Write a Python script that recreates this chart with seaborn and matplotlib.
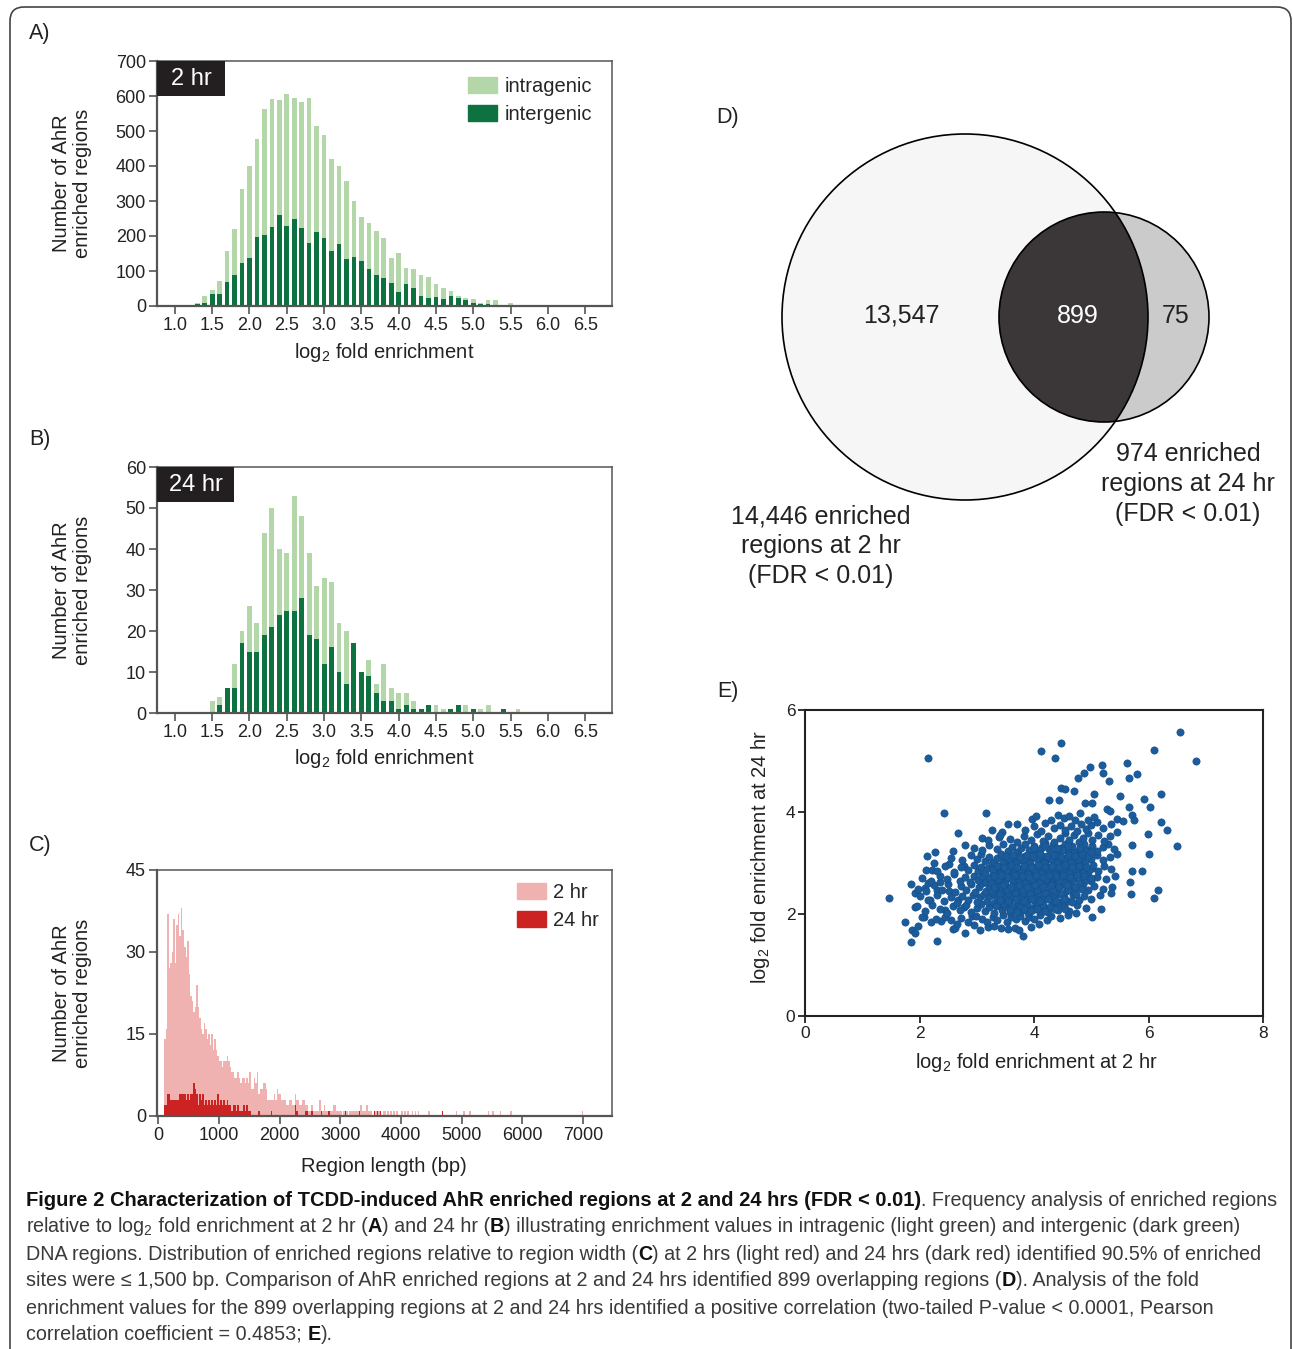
import numpy as np
import pandas as pd
import matplotlib
matplotlib.use('Agg')
import matplotlib.pyplot as plt
import seaborn as sns
from matplotlib.patches import Circle, FancyBboxPatch, Patch, Rectangle

# ---------------- data ----------------
# A) 2 hr, bins of 0.1 log2 fold enrichment
a_fold = [1.1, 1.2, 1.3, 1.4, 1.5, 1.6, 1.7, 1.8, 1.9, 2.0,
          2.1, 2.2, 2.3, 2.4, 2.5, 2.6, 2.7, 2.8, 2.9, 3.0,
          3.1, 3.2, 3.3, 3.4, 3.5, 3.6, 3.7, 3.8, 3.9, 4.0,
          4.1, 4.2, 4.3, 4.4, 4.5, 4.6, 4.7, 4.8, 4.9, 5.0,
          5.1, 5.2, 5.3, 5.4, 5.5, 5.6, 5.7, 5.8, 5.9, 6.0]
a_intragenic = [2, 0, 5, 20, 12, 37, 89, 133, 210, 263,
                282, 361, 364, 327, 377, 343, 358, 412, 302, 297,
                265, 222, 223, 158, 126, 131, 127, 114, 70, 112,
                46, 56, 61, 61, 38, 31, 16, 6, 8, 9,
                3, 13, 12, 2, 7, 1, 2, 1, 1, 1]
a_intergenic = [0, 0, 5, 10, 33, 34, 68, 88, 124, 136,
                196, 202, 227, 261, 230, 250, 224, 181, 211, 193,
                156, 177, 135, 141, 128, 106, 88, 81, 67, 40,
                63, 51, 29, 22, 26, 21, 28, 23, 16, 10,
                7, 5, 4, 2, 1, 0, 2, 0, 0, 0]

# B) 24 hr
b_fold = [1.5, 1.6, 1.7, 1.8, 1.9, 2.0, 2.1, 2.2, 2.3, 2.4,
          2.5, 2.6, 2.7, 2.8, 2.9, 3.0, 3.1, 3.2, 3.3, 3.4,
          3.5, 3.6, 3.7, 3.8, 3.9, 4.0, 4.1, 4.2, 4.3, 4.4,
          4.5, 4.6, 4.7, 4.8, 4.9, 5.0, 5.1, 5.2, 5.3, 5.4,
          5.5, 5.6]
b_intragenic = [3, 2, 0, 6, 3, 11, 7, 25, 29, 16,
                14, 28, 20, 20, 13, 21, 16, 12, 13, 0,
                0, 4, 2, 9, 3, 4, 3, 2, 0, 0,
                2, 1, 0, 0, 2, 0, 1, 2, 0, 0,
                0, 1]
b_intergenic = [0, 2, 6, 6, 17, 15, 15, 19, 21, 24,
                25, 25, 28, 19, 18, 12, 16, 10, 7, 17,
                10, 9, 5, 3, 3, 1, 2, 1, 1, 2,
                0, 0, 1, 2, 0, 1, 0, 0, 0, 1,
                0, 0]

# C) region length, 25 bp bins starting at 100 bp
c_bin_start = 100
c_bin_width = 25
c_2hr = [14, 16, 37, 27, 28, 30, 36, 28, 35, 37,
         33, 38, 34, 31, 29, 32, 26, 22, 21, 19,
         20, 24, 20, 18, 16, 15, 17, 16, 14, 15,
         13, 15, 12, 14, 12, 11, 10, 10, 9, 10,
         10, 11, 10, 9, 8, 8, 7, 7, 8, 7,
         6, 7, 7, 6, 7, 6, 8, 5, 5, 7,
         6, 8, 4, 5, 5, 6, 6, 5, 3, 3,
         3, 3, 4, 3, 5, 4, 4, 3, 3, 3,
         2, 2, 3, 3, 2, 2, 4, 3, 3, 2,
         2, 3, 3, 2, 2, 1, 1, 2, 1, 1,
         1, 1, 3, 1, 1, 2, 1, 1, 1, 1,
         1, 2, 2, 1, 1, 1, 1, 0, 1, 1,
         1, 0, 1, 1, 1, 1, 1, 1, 1, 2,
         1, 1, 1, 2, 1, 1]
c_2hr_tail_bp = [3500, 3550, 3575, 3625, 3650, 3700, 3725, 3775, 3825, 3875,
                 3925, 4000, 4050, 4100, 4175, 4225, 4275, 4450, 4675, 4900,
                 5025, 5125, 5425, 5500, 5625, 5800, 6975]
c_24hr = [2, 2, 4, 4, 3, 3, 3, 3, 3, 3,
          4, 4, 4, 4, 3, 4, 3, 4, 4, 6,
          5, 4, 2, 4, 3, 4, 2, 3, 2, 3,
          2, 3, 2, 3, 2, 4, 2, 3, 2, 3,
          2, 3, 2, 2, 1, 2, 2, 1, 2, 1,
          1, 1, 2, 1, 2, 1, 1]
c_24hr_tail_bp = [1650, 1850, 2250, 2275, 2425, 2450, 2525, 2675, 2800, 3075,
                  3300, 3550, 3600, 3650, 4675]
c_24hr_tail_n = [1, 1, 2, 1, 1, 1, 1, 1, 1, 1,
                 1, 1, 1, 1, 1]

# D) Venn counts
venn_only_2hr = '13,547'
venn_both = '899'
venn_only_24hr = '75'
venn_label_2hr = '14,446 enriched\nregions at 2 hr\n(FDR < 0.01)'
venn_label_24hr = '974 enriched\nregions at 24 hr\n(FDR < 0.01)'

# E) fold enrichment, (2 hr, 24 hr) pairs
e_sparse = [(1.46, 2.31), (1.75, 1.85), (1.85, 1.45), (1.86, 2.59), (1.87, 1.68),
            (1.93, 1.62), (1.93, 2.13), (1.93, 2.42), (1.97, 1.77), (2.07, 1.94),
            (2.10, 2.51), (2.13, 3.13), (2.14, 5.06), (2.12, 2.86), (2.15, 2.61),
            (2.18, 2.27), (2.21, 2.86), (2.25, 3.00), (2.27, 3.22), (2.31, 1.48),
            (2.30, 2.48), (2.36, 2.63), (2.42, 3.99), (2.37, 1.87), (2.45, 2.07),
            (2.51, 2.99), (2.52, 2.46), (2.58, 3.23), (2.59, 1.70), (2.67, 3.59),
            (2.68, 2.27), (2.77, 2.13), (2.80, 3.35), (2.80, 1.63), (2.77, 2.95),
            (2.91, 1.96), (3.09, 3.50), (3.16, 3.99), (3.20, 1.74), (3.26, 3.65),
            (3.38, 3.51), (3.44, 3.61), (3.55, 3.77), (3.71, 3.77), (3.81, 1.57),
            (3.97, 3.87), (4.03, 3.92), (4.13, 5.19), (4.27, 4.24), (4.37, 5.06),
            (4.44, 4.23), (4.47, 4.47), (4.48, 5.36), (4.54, 4.45), (4.69, 4.41),
            (4.76, 4.66), (4.73, 2.02), (4.87, 4.77), (4.89, 4.18), (4.97, 4.89),
            (5.01, 1.95), (5.01, 4.17), (5.04, 4.36), (5.18, 4.92), (5.20, 4.77),
            (5.17, 2.09), (5.31, 4.61), (5.36, 2.53), (5.50, 4.32), (5.62, 4.97),
            (5.66, 4.66), (5.66, 4.09), (5.72, 3.94), (5.74, 3.84), (5.80, 4.75),
            (5.70, 2.40), (5.68, 2.63), (5.72, 2.84), (5.71, 3.35), (5.89, 2.84),
            (5.92, 4.25), (5.99, 3.56), (6.02, 4.09), (6.01, 3.17), (6.09, 5.21),
            (6.10, 2.31), (6.17, 2.48), (6.22, 4.35), (6.22, 3.80), (6.33, 3.65),
            (6.49, 3.33), (6.55, 5.57), (6.83, 5.00)]
e_low = [(2.62, 1.72), (3.05, 1.68), (3.42, 1.72), (3.55, 1.70), (3.66, 1.72),
         (3.74, 1.68), (3.95, 1.74), (4.08, 1.80), (3.30, 1.76), (2.95, 1.78),
         (2.05, 1.95), (2.20, 1.85), (2.28, 1.90), (2.45, 1.95), (2.55, 1.88),
         (2.65, 1.80), (2.72, 1.92), (2.85, 1.85), (2.98, 1.96), (3.10, 1.90),
         (3.18, 1.84), (3.28, 1.95), (3.36, 1.88), (3.45, 1.98), (3.52, 1.85),
         (3.60, 1.94), (3.68, 1.90), (3.76, 1.97), (3.85, 1.86), (3.92, 1.95),
         (4.00, 1.90), (4.10, 1.98), (4.22, 1.88), (4.30, 1.96), (4.45, 1.92),
         (4.60, 1.98)]
e_mid = [(1.95, 2.15), (2.10, 2.05), (2.22, 2.18), (2.35, 2.10), (2.48, 2.02),
         (2.58, 2.15), (2.70, 2.08), (2.82, 2.18), (2.90, 2.04), (3.00, 2.12),
         (3.08, 2.20), (3.15, 2.05), (3.22, 2.14), (3.30, 2.02), (3.38, 2.18),
         (3.44, 2.08), (3.50, 2.16), (3.58, 2.03), (3.64, 2.12), (3.72, 2.20),
         (3.78, 2.06), (3.84, 2.15), (3.90, 2.02), (3.96, 2.12), (4.04, 2.19),
         (4.10, 2.06), (4.18, 2.14), (4.25, 2.03), (4.34, 2.17), (4.42, 2.08),
         (4.52, 2.15), (4.62, 2.05), (4.75, 2.18), (4.90, 2.12),
         (2.00, 2.35), (2.15, 2.28), (2.30, 2.38), (2.42, 2.25), (2.55, 2.33),
         (2.65, 2.22), (2.75, 2.36), (2.85, 2.27), (2.93, 2.38), (3.00, 2.24),
         (3.06, 2.33), (3.12, 2.40), (3.18, 2.26), (3.24, 2.35), (3.30, 2.22),
         (3.35, 2.31), (3.40, 2.39), (3.46, 2.27), (3.52, 2.36), (3.57, 2.23),
         (3.62, 2.32), (3.68, 2.40), (3.73, 2.28), (3.79, 2.36), (3.84, 2.24),
         (3.90, 2.33), (3.95, 2.40), (4.00, 2.27), (4.06, 2.35), (4.12, 2.22),
         (4.18, 2.31), (4.24, 2.39), (4.30, 2.27), (4.37, 2.35), (4.44, 2.24),
         (4.52, 2.33), (4.60, 2.26), (4.68, 2.37), (4.78, 2.28), (4.88, 2.35),
         (5.00, 2.30), (5.15, 2.38),
         (1.98, 2.50), (2.12, 2.45), (2.25, 2.56), (2.40, 2.48), (2.50, 2.58),
         (2.62, 2.44), (2.72, 2.55), (2.82, 2.47), (2.90, 2.58), (2.97, 2.43),
         (3.04, 2.52), (3.10, 2.60), (3.16, 2.46), (3.22, 2.55), (3.28, 2.42),
         (3.33, 2.50), (3.38, 2.58), (3.44, 2.45), (3.50, 2.54), (3.55, 2.42),
         (3.60, 2.50), (3.65, 2.59), (3.70, 2.46), (3.76, 2.54), (3.81, 2.42),
         (3.86, 2.51), (3.92, 2.58), (3.97, 2.45), (4.03, 2.53), (4.08, 2.42),
         (4.14, 2.50), (4.20, 2.59), (4.26, 2.46), (4.32, 2.54), (4.38, 2.43),
         (4.44, 2.52), (4.50, 2.59), (4.56, 2.45), (4.62, 2.54), (4.70, 2.43),
         (4.78, 2.52), (4.86, 2.58), (4.95, 2.47), (5.05, 2.55), (5.20, 2.50),
         (5.35, 2.42)]
e_upper = [(2.05, 2.70), (2.20, 2.65), (2.35, 2.75), (2.48, 2.68), (2.60, 2.78),
           (2.70, 2.64), (2.80, 2.72), (2.88, 2.62), (2.96, 2.75), (3.03, 2.66),
           (3.10, 2.74), (3.16, 2.63), (3.22, 2.71), (3.28, 2.79), (3.34, 2.66),
           (3.40, 2.74), (3.46, 2.62), (3.52, 2.70), (3.58, 2.78), (3.63, 2.65),
           (3.69, 2.73), (3.75, 2.61), (3.80, 2.70), (3.86, 2.78), (3.92, 2.66),
           (3.98, 2.74), (4.04, 2.62), (4.10, 2.71), (4.16, 2.79), (4.22, 2.66),
           (4.28, 2.74), (4.34, 2.63), (4.40, 2.71), (4.46, 2.78), (4.52, 2.65),
           (4.58, 2.73), (4.64, 2.62), (4.70, 2.70), (4.77, 2.78), (4.84, 2.66),
           (4.92, 2.74), (5.00, 2.64), (5.10, 2.72), (5.25, 2.68), (5.42, 2.75),
           (2.30, 2.85), (2.45, 2.95), (2.60, 2.82), (2.72, 2.92), (2.85, 2.86),
           (2.95, 2.97), (3.02, 2.84), (3.08, 2.93), (3.15, 2.81), (3.20, 2.90),
           (3.26, 2.98), (3.32, 2.85), (3.38, 2.94), (3.44, 2.82), (3.50, 2.90),
           (3.56, 2.98), (3.62, 2.86), (3.68, 2.94), (3.74, 2.82), (3.80, 2.90),
           (3.86, 2.98), (3.92, 2.85), (3.98, 2.93), (4.04, 2.81), (4.10, 2.90),
           (4.16, 2.97), (4.22, 2.84), (4.28, 2.92), (4.34, 2.81), (4.40, 2.89),
           (4.46, 2.97), (4.52, 2.85), (4.58, 2.93), (4.64, 2.82), (4.70, 2.90),
           (4.76, 2.98), (4.82, 2.86), (4.88, 2.94), (4.95, 2.83), (5.02, 2.91),
           (5.12, 2.85), (5.22, 2.95), (5.35, 2.88),
           (2.55, 3.10), (2.75, 3.05), (2.90, 3.15), (3.00, 3.08), (3.08, 3.18),
           (3.15, 3.04), (3.22, 3.12), (3.30, 3.02), (3.36, 3.10), (3.42, 3.18),
           (3.48, 3.05), (3.55, 3.14), (3.60, 3.02), (3.66, 3.10), (3.72, 3.18),
           (3.78, 3.06), (3.84, 3.14), (3.90, 3.03), (3.96, 3.12), (4.02, 3.19),
           (4.08, 3.06), (4.14, 3.14), (4.20, 3.02), (4.26, 3.10), (4.32, 3.18),
           (4.38, 3.05), (4.44, 3.13), (4.50, 3.02), (4.56, 3.10), (4.62, 3.18),
           (4.68, 3.06), (4.74, 3.14), (4.80, 3.03), (4.86, 3.11), (4.92, 3.19),
           (5.00, 3.07), (5.10, 3.15), (5.20, 3.05), (5.32, 3.12), (5.45, 3.18)]
e_high = [(2.95, 3.30), (3.10, 3.25), (3.22, 3.35), (3.35, 3.28), (3.45, 3.38),
          (3.55, 3.24), (3.62, 3.32), (3.70, 3.22), (3.78, 3.30), (3.85, 3.38),
          (3.92, 3.26), (4.00, 3.34), (4.07, 3.23), (4.14, 3.31), (4.20, 3.39),
          (4.27, 3.27), (4.34, 3.35), (4.40, 3.22), (4.47, 3.30), (4.54, 3.38),
          (4.60, 3.26), (4.67, 3.34), (4.74, 3.22), (4.80, 3.30), (4.87, 3.38),
          (4.94, 3.26), (5.02, 3.34), (5.10, 3.24), (5.20, 3.32), (5.30, 3.38),
          (5.40, 3.28),
          (3.20, 3.45), (3.40, 3.55), (3.58, 3.48), (3.70, 3.42), (3.82, 3.52),
          (3.95, 3.45), (4.05, 3.56), (4.15, 3.44), (4.25, 3.52), (4.35, 3.42),
          (4.45, 3.50), (4.55, 3.58), (4.62, 3.45), (4.70, 3.54), (4.78, 3.42),
          (4.86, 3.50), (4.94, 3.58), (5.02, 3.46), (5.12, 3.55), (5.22, 3.44),
          (5.32, 3.52), (5.45, 3.60),
          (3.85, 3.65), (4.00, 3.72), (4.12, 3.62), (4.20, 3.78), (4.35, 3.68),
          (4.45, 3.75), (4.55, 3.64), (4.65, 3.72), (4.75, 3.62), (4.82, 3.76),
          (4.90, 3.66), (5.00, 3.74), (5.10, 3.80), (5.20, 3.68), (5.35, 3.76),
          (4.30, 3.85), (4.42, 3.95), (4.52, 3.88), (4.62, 3.92), (4.72, 3.85),
          (4.80, 3.98), (4.95, 3.85), (5.05, 3.90), (5.28, 4.05), (5.32, 4.02),
          (5.45, 3.86), (5.55, 3.82)]
e_core = [(3.33, 2.15), (3.47, 2.20), (3.61, 2.16), (3.75, 2.13), (3.88, 2.20),
          (4.02, 2.10), (4.15, 2.18), (4.28, 2.13), (4.41, 2.20), (4.55, 2.10),
          (3.27, 2.45), (3.41, 2.40), (3.53, 2.47), (3.67, 2.41), (3.80, 2.48),
          (3.93, 2.40), (4.06, 2.47), (4.19, 2.41), (4.33, 2.48), (4.47, 2.40),
          (4.60, 2.48), (4.73, 2.40),
          (3.25, 2.60), (3.37, 2.68), (3.49, 2.61), (3.61, 2.69), (3.73, 2.64),
          (3.85, 2.60), (3.97, 2.68), (4.09, 2.60), (4.21, 2.68), (4.31, 2.59),
          (4.43, 2.67), (4.55, 2.60), (4.67, 2.68), (4.79, 2.61), (4.91, 2.66),
          (3.29, 2.88), (3.41, 2.80), (3.53, 2.87), (3.65, 2.80), (3.77, 2.87),
          (3.89, 2.79), (4.01, 2.87), (4.13, 2.80), (4.25, 2.88), (4.37, 2.79),
          (4.49, 2.87), (4.61, 2.80), (4.73, 2.87), (4.85, 2.80), (4.97, 2.88),
          (3.45, 3.00), (3.57, 3.08), (3.69, 3.00), (3.81, 3.08), (3.93, 3.00),
          (4.05, 3.08), (4.17, 3.00), (4.29, 3.08), (4.41, 3.00), (4.53, 3.08),
          (4.65, 3.00), (4.77, 3.08), (4.89, 3.00),
          (4.10, 3.25), (4.30, 3.20), (4.50, 3.25), (4.70, 3.20), (4.90, 3.24)]
e_dense = [(3.40, 2.28), (3.54, 2.25), (3.68, 2.30), (3.82, 2.26), (3.96, 2.29),
           (4.10, 2.25), (4.24, 2.30), (4.38, 2.26), (4.52, 2.29), (4.66, 2.24),
           (3.30, 2.53), (3.46, 2.56), (3.60, 2.52), (3.74, 2.57), (3.88, 2.53),
           (4.02, 2.56), (4.16, 2.52), (4.30, 2.57), (4.44, 2.53), (4.58, 2.56),
           (4.72, 2.52), (4.84, 2.50),
           (3.31, 2.74), (3.43, 2.76), (3.55, 2.73), (3.67, 2.77), (3.79, 2.75),
           (3.91, 2.72), (4.03, 2.76), (4.15, 2.73), (4.27, 2.77), (4.39, 2.74),
           (4.51, 2.76), (4.63, 2.73), (4.75, 2.77), (4.87, 2.74), (4.99, 2.71),
           (3.35, 2.95), (3.47, 2.93), (3.59, 2.96), (3.71, 2.92), (3.83, 2.95),
           (3.95, 2.93), (4.07, 2.96), (4.19, 2.92), (4.31, 2.95), (4.43, 2.93),
           (4.55, 2.96), (4.67, 2.92), (4.79, 2.95), (4.91, 2.93), (5.03, 2.96),
           (3.51, 3.14), (3.63, 3.16), (3.75, 3.12), (3.87, 3.16), (3.99, 3.13),
           (4.11, 3.17), (4.23, 3.13), (4.35, 3.16), (4.47, 3.12), (4.59, 3.16),
           (4.71, 3.13), (4.83, 3.17), (4.95, 3.14),
           (4.00, 3.30), (4.20, 3.33), (4.40, 3.30), (4.60, 3.33), (4.80, 3.30),
           (5.00, 3.22),
           (3.58, 2.08), (3.70, 2.04), (3.82, 2.09), (3.94, 2.05), (4.06, 2.09),
           (4.20, 2.05), (4.36, 2.09)]

# ---------------- style ----------------
W, H = 1293, 1349
sns.set_theme(style='white')
plt.rcParams['font.family'] = ['Liberation Sans', 'DejaVu Sans']
plt.rcParams['mathtext.fontset'] = 'custom'
plt.rcParams['mathtext.rm'] = 'Liberation Sans'
plt.rcParams['mathtext.it'] = 'Liberation Sans:italic'
plt.rcParams['mathtext.bf'] = 'Liberation Sans:bold'

light_green = '#b3d7a8'
dark_green = '#0e7140'
light_red = '#f0b1b1'
dark_red = '#cc2222'
dot_blue = '#1b5c9d'
axis_grey = '#555555'

fig = plt.figure(figsize=(W / 100, H / 100), dpi=100)


def px_axes(left, top, right, bottom):
    return fig.add_axes([left / W, 1 - bottom / H, (right - left) / W, (bottom - top) / H])


# background axes in pixel units for labels, caption and frame
bg = fig.add_axes([0, 0, 1, 1])
bg.set_xlim(0, W)
bg.set_ylim(H, 0)
bg.axis('off')
bg.set_zorder(-1)
bg.add_patch(FancyBboxPatch((10, 7), 1281, 1400, boxstyle='round,pad=0,rounding_size=14',
                            facecolor='none', edgecolor='#444444', linewidth=1.2))


def style_hist_axes(ax):
    for s in ax.spines.values():
        s.set_color(axis_grey)
        s.set_linewidth(1.1)
    ax.spines['left'].set_linewidth(1.6)
    ax.spines['bottom'].set_linewidth(1.6)
    ax.tick_params(axis='both', direction='out', length=6, width=1.2, color=axis_grey,
                   labelsize=13, pad=2, bottom=True, left=True, labelcolor='#222222')
    ax.set_xlabel('')
    ax.set_ylabel('')


def time_box(ax, label, w):
    ax.add_patch(Rectangle((0, 1), w, -0.143, transform=ax.transAxes, facecolor='#231f20',
                           edgecolor='none', zorder=5, clip_on=False))
    ax.text(w / 2, 1 - 0.0715, label, transform=ax.transAxes, ha='center', va='center',
            color='white', fontsize=17, zorder=6)


def patch_legend(ax, colors, labels, anchor):
    ax.legend(handles=[Patch(color=c, label=l) for c, l in zip(colors, labels)],
              loc='upper right', bbox_to_anchor=anchor, frameon=False, fontsize=14.5,
              handlelength=1.45, handleheight=0.85, handletextpad=0.35,
              labelspacing=0.45, borderaxespad=0.35, borderpad=0.3)


fold_ticks = [1.0, 1.5, 2.0, 2.5, 3.0, 3.5, 4.0, 4.5, 5.0, 5.5, 6.0, 6.5]

# ---------------- A ----------------
ax_a = px_axes(157, 61, 612, 306)
a_total = np.add(a_intragenic, a_intergenic)
sns.barplot(x=a_fold, y=a_total, native_scale=True, width=0.62, color=light_green,
            saturation=1, linewidth=0, errorbar=None, orient='x', ax=ax_a)
sns.barplot(x=a_fold, y=a_intergenic, native_scale=True, width=0.62, color=dark_green,
            saturation=1, linewidth=0, errorbar=None, orient='x', ax=ax_a)
ax_a.set_xlim(0.76, 6.86)
ax_a.set_ylim(0, 700)
ax_a.set_xticks(fold_ticks)
ax_a.set_xticklabels([f'{t:.1f}' for t in fold_ticks])
ax_a.set_yticks(range(0, 701, 100))
style_hist_axes(ax_a)
time_box(ax_a, '2 hr', 0.149)
patch_legend(ax_a, [light_green, dark_green], ['intragenic', 'intergenic'],
             (1 - 7 / 455, 1 - 3 / 245))

# ---------------- B ----------------
ax_b = px_axes(157, 467, 612, 713)
b_total = np.add(b_intragenic, b_intergenic)
sns.barplot(x=b_fold, y=b_total, native_scale=True, width=0.66, color=light_green,
            saturation=1, linewidth=0, errorbar=None, orient='x', ax=ax_b)
sns.barplot(x=b_fold, y=b_intergenic, native_scale=True, width=0.66, color=dark_green,
            saturation=1, linewidth=0, errorbar=None, orient='x', ax=ax_b)
ax_b.set_xlim(0.76, 6.86)
ax_b.set_ylim(0, 60)
ax_b.set_xticks(fold_ticks)
ax_b.set_xticklabels([f'{t:.1f}' for t in fold_ticks])
ax_b.set_yticks(range(0, 61, 10))
style_hist_axes(ax_b)
time_box(ax_b, '24 hr', 0.169)

# ---------------- C ----------------
ax_c = px_axes(157, 870, 612, 1116)
c_x_2hr = [c_bin_start + c_bin_width * (i + 0.5) for i in range(len(c_2hr))]
c_x_2hr += [b + c_bin_width / 2 for b in c_2hr_tail_bp]
c_y_2hr = c_2hr + [1] * len(c_2hr_tail_bp)
c_x_24 = [c_bin_start + c_bin_width * (i + 0.5) for i in range(len(c_24hr))]
c_x_24 += [b + c_bin_width / 2 for b in c_24hr_tail_bp]
c_y_24 = c_24hr + c_24hr_tail_n
sns.barplot(x=c_x_2hr, y=c_y_2hr, native_scale=True, width=1.0, color=light_red,
            saturation=1, linewidth=0, errorbar=None, orient='x', ax=ax_c)
sns.barplot(x=c_x_24, y=c_y_24, native_scale=True, width=1.0, color=dark_red,
            saturation=1, linewidth=0, errorbar=None, orient='x', ax=ax_c)
ax_c.set_xlim(-20, 7476)
ax_c.set_ylim(0, 45)
ax_c.set_xticks(range(0, 7001, 1000))
ax_c.set_xticklabels([str(t) for t in range(0, 7001, 1000)])
ax_c.set_yticks([0, 15, 30, 45])
style_hist_axes(ax_c)
patch_legend(ax_c, [light_red, dark_red], ['2 hr', '24 hr'], (1, 1))

# ---------------- D (Venn) ----------------
ax_d = px_axes(700, 100, 1293, 600)
ax_d.set_xlim(700, 1293)
ax_d.set_ylim(600, 100)
ax_d.axis('off')
big = Circle((965, 317), 183, facecolor='#f6f6f6', edgecolor='none')
small = Circle((1104, 317), 105, facecolor='#cbcbcb', edgecolor='none')
ax_d.add_patch(big)
ax_d.add_patch(small)
inter = Circle((1104, 317), 105, facecolor='#3b3738', edgecolor='none')
ax_d.add_patch(inter)
inter.set_clip_path(big)
ax_d.add_patch(Circle((965, 317), 183, facecolor='none', edgecolor='black', linewidth=1.2))
ax_d.add_patch(Circle((1104, 317), 105, facecolor='none', edgecolor='black', linewidth=1.2))
ax_d.text(901, 316, venn_only_2hr, ha='center', va='center', fontsize=18, color='#222222')
ax_d.text(1078, 316, venn_both, ha='center', va='center', fontsize=18, color='white')
ax_d.text(1176, 316, venn_only_24hr, ha='center', va='center', fontsize=18, color='#222222')
ax_d.text(821, 546, venn_label_2hr, ha='center', va='center', fontsize=18,
          linespacing=1.3, color='#222222')
ax_d.text(1188, 484, venn_label_24hr, ha='center', va='center', fontsize=18,
          linespacing=1.3, color='#222222')

# ---------------- E ----------------
ax_e = px_axes(805, 710, 1263, 1016)
e_all = e_sparse + e_low + e_mid + e_upper + e_high + e_core + e_dense
e_df = pd.DataFrame(e_all, columns=['fold_2hr', 'fold_24hr'])
sns.scatterplot(data=e_df, x='fold_2hr', y='fold_24hr', s=27, color=dot_blue,
                edgecolor='#16508a', linewidth=0.5, ax=ax_e)
ax_e.set_xlim(0, 8)
ax_e.set_ylim(0, 6)
ax_e.set_xticks([0, 2, 4, 6, 8])
ax_e.set_yticks([0, 2, 4, 6])
for s in ax_e.spines.values():
    s.set_color('#222222')
    s.set_linewidth(1.5)
ax_e.tick_params(axis='both', direction='out', length=5, width=1.3, color='#222222',
                 labelsize=12.5, pad=2, bottom=True, left=True, labelcolor='#222222')
ax_e.set_xlabel('')
ax_e.set_ylabel('')

# ---------------- labels ----------------
lab = dict(fontsize=14.5, color='#222222', ha='center', va='center')
for y, letter in [(33, 'A)'), (440, 'B)'), (846, 'C)')]:
    bg.text(40, y, letter, fontsize=15.5, color='#222222', ha='center', va='center')
bg.text(728, 118, 'D)', fontsize=15.5, color='#222222', ha='center', va='center')
bg.text(728, 691, 'E)', fontsize=15.5, color='#222222', ha='center', va='center')
for y in (183, 590, 993):
    bg.text(72, y, 'Number of AhR\nenriched regions', rotation=90, linespacing=1.1, **lab)
bg.text(384, 352, 'log$_2$ fold enrichment', **lab)
bg.text(384, 759, 'log$_2$ fold enrichment', **lab)
bg.text(384, 1166, 'Region length (bp)', **lab)
bg.text(1036, 1062, 'log$_2$ fold enrichment at 2 hr', **lab)
bg.text(760, 857, 'log$_2$ fold enrichment at 24 hr', rotation=90, **lab)

# ---------------- caption ----------------
cap_font = ['Liberation Sans Narrow', 'Liberation Sans', 'DejaVu Sans']
renderer = fig.canvas.get_renderer()
bold_head = 'Figure 2 Characterization of TCDD-induced AhR enriched regions at 2 and 24 hrs (FDR < 0.01)'
probe = bg.text(0, 0, bold_head, fontsize=10, fontweight='bold', family=cap_font)
cap_size = 10 * 895 / probe.get_window_extent(renderer=renderer).width
probe.remove()
body_size = cap_size * 0.98

caption_lines = [
    (1201, [(bold_head, 'bold'), ('. Frequency analysis of enriched regions', 'normal')]),
    (1227, [('relative to log$_2$', 'normal'), (' fold enrichment at 2 hr (', 'normal'), ('A', 'bold'),
            (') and 24 hr (', 'normal'), ('B', 'bold'),
            (') illustrating enrichment values in intragenic (light green) and intergenic (dark green)', 'normal')]),
    (1254, [('DNA regions. Distribution of enriched regions relative to region width (', 'normal'),
            ('C', 'bold'),
            (') at 2 hrs (light red) and 24 hrs (dark red) identified 90.5% of enriched', 'normal')]),
    (1281, [('sites were \u2264 1,500 bp. Comparison of AhR enriched regions at 2 and 24 hrs identified 899 overlapping regions (', 'normal'),
            ('D', 'bold'), ('). Analysis of the fold', 'normal')]),
    (1308, [('enrichment values for the 899 overlapping regions at 2 and 24 hrs identified a positive correlation (two-tailed P-value < 0.0001, Pearson', 'normal')]),
    (1334, [('correlation coefficient = 0.4853; ', 'normal'), ('E', 'bold'), (').', 'normal')]),
]
for i, (y, segs) in enumerate(caption_lines):
    x = 26
    for txt, weight in segs:
        col = '#111111' if weight == 'bold' else '#3a3a3a'
        size = cap_size if (i == 0 and weight == 'bold') else body_size
        t = bg.text(x, y, txt, fontsize=size, fontweight=weight, family=cap_font,
                    color=col, ha='left', va='center')
        x += t.get_window_extent(renderer=renderer).width

plt.savefig('out.png', dpi=100)
